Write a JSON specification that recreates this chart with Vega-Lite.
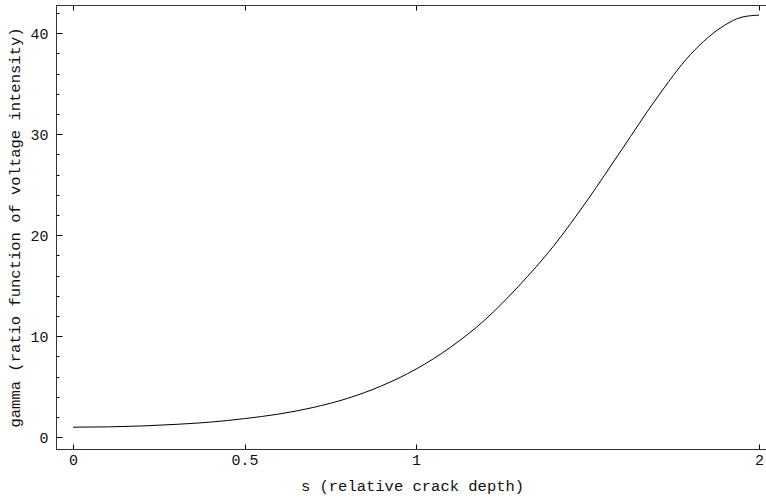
{
  "$schema": "https://vega.github.io/schema/vega-lite/v6.json",
  "width": 712,
  "height": 444,
  "autosize": "none",
  "padding": {"left": 56, "top": 5, "right": 0, "bottom": 50},
  "config": {
    "view": {"stroke": "#333", "strokeWidth": 1},
    "font": "Liberation Mono",
    "axis": {
      "labelFont": "Liberation Mono",
      "titleFont": "Liberation Mono",
      "labelFontSize": 15,
      "titleFontSize": 15.5,
      "labelColor": "#111",
      "titleColor": "#111",
      "titleFontWeight": "normal",
      "domainColor": "#333",
      "tickColor": "#000",
      "labelOverlap": false,
      "grid": false
    }
  },
  "data": {
    "values": [
      {"s": 0.0, "gamma": 1.0},
      {"s": 0.1, "gamma": 1.03},
      {"s": 0.2, "gamma": 1.12},
      {"s": 0.3, "gamma": 1.28},
      {"s": 0.4, "gamma": 1.5},
      {"s": 0.5, "gamma": 1.85},
      {"s": 0.6, "gamma": 2.3},
      {"s": 0.7, "gamma": 2.95},
      {"s": 0.8, "gamma": 3.85},
      {"s": 0.9, "gamma": 5.1},
      {"s": 1.0, "gamma": 6.75},
      {"s": 1.1, "gamma": 8.9},
      {"s": 1.2, "gamma": 11.6},
      {"s": 1.3, "gamma": 15.0},
      {"s": 1.4, "gamma": 18.9},
      {"s": 1.5, "gamma": 23.5},
      {"s": 1.6, "gamma": 28.5},
      {"s": 1.7, "gamma": 33.5},
      {"s": 1.8, "gamma": 37.9},
      {"s": 1.9, "gamma": 40.8},
      {"s": 1.95, "gamma": 41.6},
      {"s": 2.0, "gamma": 41.8}
    ]
  },
  "layer": [
    {
      "mark": {"type": "line", "color": "#000", "strokeWidth": 1, "interpolate": "monotone", "clip": true},
      "encoding": {
        "x": {
          "field": "s", "type": "quantitative",
          "scale": {"domain": [-0.0496, 2.026], "nice": false, "zero": false},
          "axis": {
            "orient": "bottom",
            "values": [0, 0.5, 1, 2],
            "format": "~g",
            "tickSize": -5,
            "labelPadding": 8,
            "labelOverlap": false,
            "title": "s (relative crack depth)",
            "titlePadding": 11
          }
        },
        "y": {
          "field": "gamma", "type": "quantitative",
          "scale": {"domain": [-1.16, 42.8], "nice": false, "zero": false},
          "axis": {
            "values": [0, 2, 4, 6, 8, 10, 12, 14, 16, 18, 20, 22, 24, 26, 28, 30, 32, 34, 36, 38, 40, 42],
            "labelExpr": "datum.value % 10 === 0 ? format(datum.value, 'd') : ''",
            "labelOverlap": false,
            "labelBound": false,
            "tickSize": {"condition": {"test": "datum.value % 10 === 0", "value": -6}, "value": -3},
            "labelPadding": 14,
            "title": "gamma (ratio function of voltage intensity)",
            "titlePadding": 7
          }
        }
      }
    },
    {
      "mark": {"type": "rule", "strokeOpacity": 0},
      "encoding": {
        "x": {
          "field": "s", "type": "quantitative",
          "axis": {
            "orient": "top",
            "values": [0, 0.5, 1, 2],
            "labels": false,
            "tickSize": -5,
            "title": null
          }
        }
      }
    }
  ],
  "resolve": {"axis": {"x": "independent"}}
}
